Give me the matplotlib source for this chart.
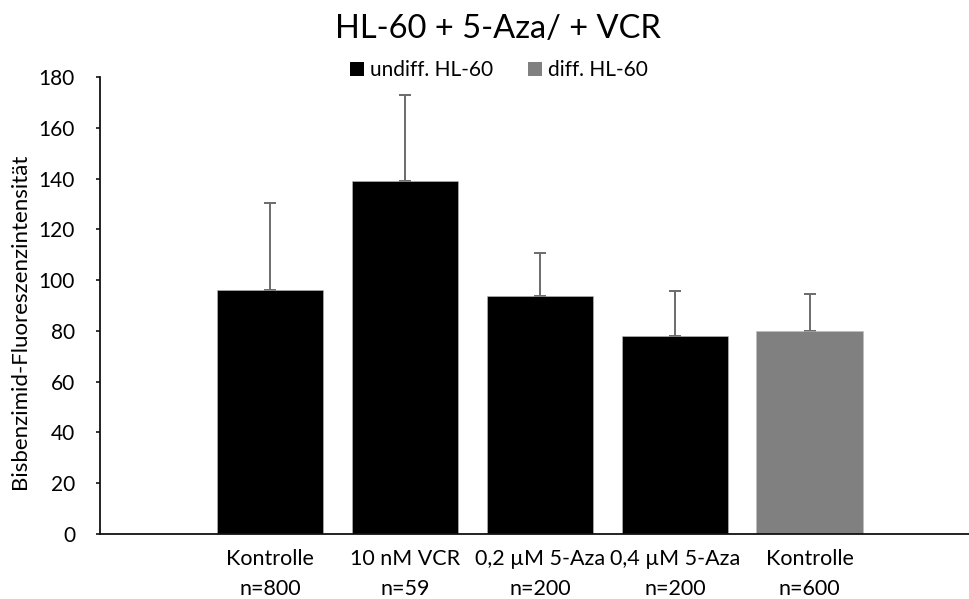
import matplotlib
matplotlib.use("Agg")
import matplotlib.pyplot as plt
from matplotlib.patches import Patch
import numpy as np

plt.rcParams["font.family"] = ["Lato", "DejaVu Sans"]

# Data
categories = ["Kontrolle\nn=800", "10 nM VCR\nn=59", "0,2 µM 5-Aza\nn=200",
              "0,4 µM 5-Aza\nn=200", "Kontrolle\nn=600"]
means = [96.1, 139.0, 93.6, 77.8, 79.8]
sd = [34.3, 34.0, 17.0, 17.8, 14.7]
groups = ["undiff", "undiff", "undiff", "undiff", "diff"]
group_labels = {"undiff": "undiff. HL-60", "diff": "diff. HL-60"}
group_colors = {"undiff": "#000000", "diff": "#808080"}
yticks = [0, 20, 40, 60, 80, 100, 120, 140, 160, 180]

W, H = 969, 599
fig = plt.figure(figsize=(W / 100, H / 100), dpi=100)
ax = fig.add_axes([100 / W, (H - 534) / H, (W - 100) / W, (534 - 77) / H])

x = np.arange(len(categories))
colors = [group_colors[g] for g in groups]
ax.bar(x, means, width=0.79, color=colors, edgecolor="#bdbdbd", linewidth=0.4, zorder=2)
ax.errorbar(x, means, yerr=[np.zeros(len(sd)), sd], fmt="none",
            ecolor="#6b6b6b", elinewidth=1.4, capsize=4.3, capthick=1.4, zorder=1)

ax.set_xlim(-1.26, 5.18)
ax.set_ylim(0, 180)
ax.set_yticks(yticks)
ax.set_xticks(x)
ax.set_xticklabels(categories, fontsize=15.5, linespacing=1.6)
ax.tick_params(axis="x", length=0, pad=11)
ax.tick_params(axis="y", length=3, width=1.1, direction="out", pad=15, labelsize=15)

for s in ["top", "right"]:
    ax.spines[s].set_visible(False)
for s in ["left", "bottom"]:
    ax.spines[s].set_linewidth(1.3)
    ax.spines[s].set_color("#111111")

fig.text(20 / W, 1 - 321 / H, "Bisbenzimid-Fluoreszenzintensität", rotation=90,
         ha="center", va="center", fontsize=16)
fig.text(0.5 * (335 + 661) / W, 1 - 29 / H, "HL-60 + 5-Aza/ + VCR",
         ha="center", va="center", fontsize=23.5)

handles = [Patch(facecolor=group_colors[k], edgecolor="none", label=group_labels[k])
           for k in ["undiff", "diff"]]
fig.legend(handles=handles, loc="center", bbox_to_anchor=(499 / W, 1 - 70 / H),
           ncol=2, frameon=False, fontsize=15, handlelength=0.65, handleheight=0.65,
           handletextpad=0.3, columnspacing=1.7)

fig.savefig("out.png", dpi=100)
